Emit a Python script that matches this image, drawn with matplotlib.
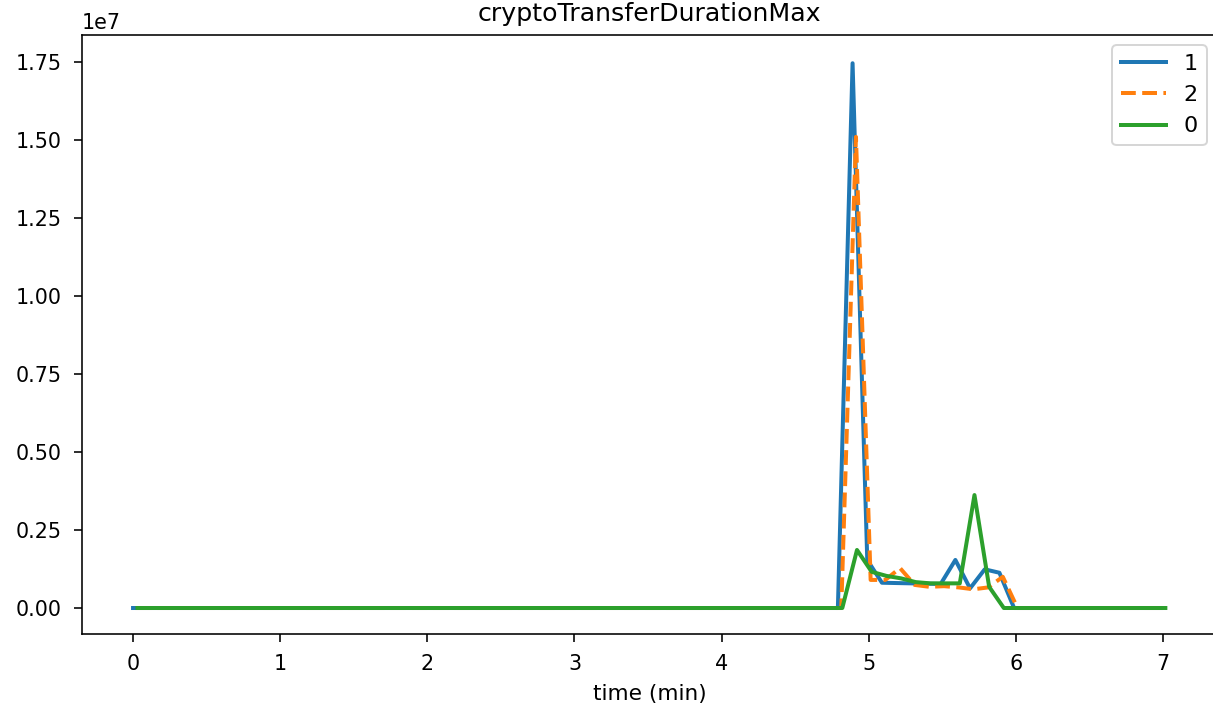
import numpy as np
import matplotlib
matplotlib.use("Agg")
import matplotlib.pyplot as plt

# sample grid (minutes): 71 samples per series, ~6 s apart, each series with its own start offset
n_samples = 71
step_min = 0.0998
offset_1 = 0.0
offset_2 = 0.023
offset_0 = 0.030

# active window values (index 48..60); all other samples are 0
spike_start = 48
series_1 = [0.0, 1.746e7, 1.54e6, 0.81e6, 0.80e6, 0.79e6, 0.78e6, 0.77e6, 1.54e6, 0.63e6, 1.24e6, 1.13e6, 0.0]
series_2 = [0.0, 1.51e7, 0.90e6, 0.90e6, 1.28e6, 0.74e6, 0.68e6, 0.70e6, 0.66e6, 0.60e6, 0.66e6, 1.00e6, 0.0]
series_0 = [0.0, 1.86e6, 1.16e6, 1.03e6, 0.95e6, 0.83e6, 0.79e6, 0.79e6, 0.79e6, 3.62e6, 0.68e6, 0.0, 0.0]

labels = ["1", "2", "0"]
offsets = [offset_1, offset_2, offset_0]
actives = [series_1, series_2, series_0]
colors = ["#1f77b4", "#ff7f0e", "#2ca02c"]
styles = ["-", "--", "-"]


def full_series(active):
    vals = [0.0] * n_samples
    for i, v in enumerate(active):
        vals[spike_start + i] = v
    return vals


fig = plt.figure(figsize=(1213 / 144, 707 / 144), dpi=144)
ax = fig.add_axes([81.7 / 1213, (707 - 634) / 707, (1217 - 81.7) / 1213, (634 - 35) / 707])

for lab, off, act, col, ls in zip(labels, offsets, actives, colors, styles):
    t = np.arange(n_samples) * step_min + off
    ax.plot(t, full_series(act), color=col, linestyle=ls, linewidth=2, label=lab)

ax.set_xlim(-0.349, 7.367)
ax.set_ylim(-0.0833e7, 1.8365e7)
ax.tick_params(length=4, pad=6, labelsize=10.3)
ax.yaxis.get_offset_text().set_fontsize(10.3)
ax.set_title("cryptoTransferDurationMax", fontsize=12.6, pad=7)
ax.set_xlabel("time (min)", fontsize=10.8, labelpad=5)
ax.legend(loc="upper right", fontsize=11.2, handlelength=2.0, borderaxespad=0.45)

fig.savefig("out.png", dpi=144)
